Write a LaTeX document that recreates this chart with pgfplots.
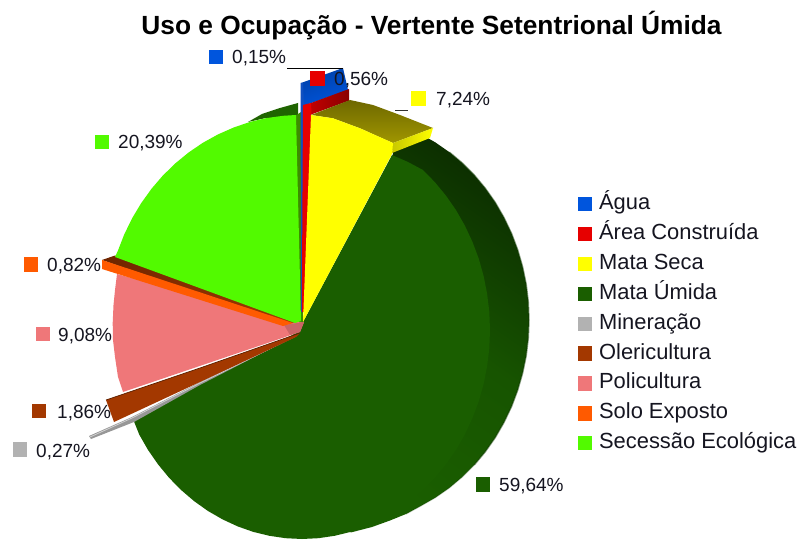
\documentclass[border=0pt]{standalone}
\usepackage{pgfplots}
\usepackage{fontspec}
\setmainfont{Liberation Sans}
\pgfplotsset{compat=1.18}
\definecolor{cAgua}{HTML}{0055DD}
\definecolor{cArea}{HTML}{E60000}
\definecolor{cSeca}{HTML}{FFFF00}
\definecolor{cUmida}{HTML}{1A5E00}
\definecolor{cMin}{HTML}{B2B2B2}
\definecolor{cOle}{HTML}{A33800}
\definecolor{cPoli}{HTML}{EF7779}
\definecolor{cSolo}{HTML}{FF5A00}
\definecolor{cSec}{HTML}{52FA00}
\definecolor{cTxt}{HTML}{151520}
\definecolor{wUa}{HTML}{0C2F00}
\definecolor{wUb}{HTML}{175400}
\definecolor{wSecB}{HTML}{1F6400}
\definecolor{wSolo}{HTML}{6E2500}
\definecolor{wSecI}{HTML}{3D8C00}
\definecolor{wAg}{HTML}{0040A8}
\definecolor{wAgI}{HTML}{1050C0}
\definecolor{wArL}{HTML}{C00000}
\definecolor{wArR}{HTML}{8A0000}
\definecolor{wSeT}{HTML}{6E6800}
\definecolor{wSeB}{HTML}{A09600}
\definecolor{wSeS}{HTML}{C8C800}
\definecolor{wRim}{HTML}{0F3A00}
\pgfplotsset{keysq/.style={only marks,mark=square*,mark size=6.7pt,color=#1,mark options={draw=#1,fill=#1,line width=0pt}}}
\newcommand{\lab}[3]{\node[anchor=base west,inner sep=0pt,text=cTxt,font=\fontsize{19}{22}\selectfont] at (axis cs:#1,#2) {#3};}
\begin{document}
\begin{tikzpicture}[x=1pt,y=1pt]
\useasboundingbox (0,0) rectangle (798,540);
\begin{axis}[at={(0,0)},anchor=south west,scale only axis,width=798pt,height=540pt,
 xmin=0,xmax=798,ymin=0,ymax=540,y dir=reverse,hide axis,clip=false,
 legend style={draw=none,fill=none,at={(axis cs:575,191)},anchor=north west,
  font=\fontsize{21.9}{24}\selectfont,text=cTxt,row sep=7.875pt,
  nodes={inner ysep=0.5pt,inner xsep=7.5pt,text height=16pt,text depth=5pt}},
 legend cell align=left]
% legend
\addlegendimage{keysq=cAgua}
\addlegendimage{keysq=cArea}
\addlegendimage{keysq=cSeca}
\addlegendimage{keysq=cUmida}
\addlegendimage{keysq=cMin}
\addlegendimage{keysq=cOle}
\addlegendimage{keysq=cPoli}
\addlegendimage{keysq=cSolo}
\addlegendimage{keysq=cSec}
\addlegendentry{Água}
\addlegendentry{Área Construída}
\addlegendentry{Mata Seca}
\addlegendentry{Mata Úmida}
\addlegendentry{Mineração}
\addlegendentry{Olericultura}
\addlegendentry{Policultura}
\addlegendentry{Solo Exposto}
\addlegendentry{Secessão Ecológica}
% Mata Umida wall
\addplot[forget plot,draw=none,top color=wUa,bottom color=cUmida,middle color=wUb,shading angle=-35] coordinates {(393,152)(421,134.2)(435.5,142.5)(449.3,152.1)(462.2,163)(474.2,175)(485.2,188.2)(495.2,202.4)(503.9,217.5)(511.5,233.4)(517.7,249.9)(522.6,266.9)(526.2,284.4)(528.3,302.1)(529,320)(528.3,337.9)(526.2,355.6)(522.6,373.1)(517.7,390.1)(511.5,406.6)(503.9,422.5)(495.2,437.6)(485.2,451.8)(474.2,465)(462.2,477)(449.3,487.9)(435.5,497.5)(421,505.8)(406,514)(390,520.5)(372,527)(350.7,532.5)} --cycle;
\addplot[forget plot,draw=wRim,line width=1.5pt,opacity=.5] coordinates {(449.3,152.1)(462.2,163)(474.2,175)(485.2,188.2)(495.2,202.4)(503.9,217.5)(511.5,233.4)(517.7,249.9)(522.6,266.9)(526.2,284.4)(528.3,302.1)(529,320)(528.3,337.9)(526.2,355.6)(522.6,373.1)(517.7,390.1)(511.5,406.6)(503.9,422.5)(495.2,437.6)(485.2,451.8)(474.2,465)};
\addplot[forget plot,draw=wRim,line width=1.2pt,opacity=.25] coordinates {(474.2,465)(462.2,477)(449.3,487.9)(435.5,497.5)(421,505.8)(406,514)};
% Mata Umida face
\addplot[forget plot,draw=none,fill=cUmida] coordinates {(303,322)(392,155)(408,162)(422.8,169.9)(434.9,182.2)(446,195.7)(456,210.1)(464.8,225.5)(472.4,241.7)(478.7,258.5)(483.6,275.9)(487.1,293.7)(489.3,311.8)(490,330)(489.3,348.2)(487.1,366.3)(483.6,384.1)(478.7,401.5)(472.4,418.3)(464.8,434.5)(456,449.9)(446,464.3)(434.9,477.8)(422.8,490.1)(409.8,501.2)(396,511)(381.4,519.4)(366.3,526.4)(350.7,531.9)(334.6,535.8)(318.4,538.2)(302,539)(285.6,538.2)(269.4,535.8)(253.3,531.9)(237.7,526.4)(222.6,519.4)(208,511)(194.2,501.2)(181.2,490.1)(169.1,477.8)(158,464.3)(148,449.9)(139.2,434.5)(133,419)(200,383)(298,332)} --cycle;
% Secessao back wall
\addplot[forget plot,draw=none,fill=wSecB] coordinates {(248,122)(262,114)(280,108)(298,103)(298,117)(266,118)} --cycle;
% Mineracao
\addplot[forget plot,draw=none,fill=cMin!85!black] coordinates {(89,436)(132,417)(200,382)(297,335)(200,385)(134,422)(91,439)} --cycle;
\addplot[forget plot,draw=cMin!60!white,line width=.8pt] coordinates {(90,437)(132,418)(200,383)(296,336)};
% Policultura
\addplot[forget plot,draw=none,fill=cPoli] coordinates {(117,274)(290,322)(304,322)(300,332)(123,392)(118,377)(115,357)(113,340)(112.7,323)(113.5,305)(115,290)} --cycle;
\addplot[forget plot,draw=none,fill=cPoli!85!black] coordinates {(284,325)(304,322)(300,332)(290,335)} --cycle;
% Olericultura
\addplot[forget plot,draw=none,fill=cOle] coordinates {(106,400)(114,422)(200,382)(296,337)(300,333)(200,368)} --cycle;
\addplot[forget plot,draw=cOle!55!black,line width=.7pt] coordinates {(106,400)(200,368)(300,333)};
% Solo Exposto wall and face
\addplot[forget plot,draw=none,left color=wSolo,right color=cOle] coordinates {(102,260)(115,255.5)(297,322)(285,324)} --cycle;
\addplot[forget plot,draw=none,fill=cSolo] coordinates {(102,260)(102,269)(283,326)(293,323)} --cycle;
% Secessao inner wall and face
\addplot[forget plot,draw=none,fill=wSecI] coordinates {(295,116)(301,112)(303,322)(299,322)} --cycle;
\addplot[forget plot,draw=none,fill=cSec] coordinates {(296,115)(283.1,115.8)(266.3,118.1)(249.8,122)(233.7,127.5)(218,134.4)(203,142.7)(188.7,152.4)(175.3,163.4)(162.8,175.6)(151.4,188.9)(141.1,203.3)(132,218.5)(124.2,234.5)(117.7,251.2)(115,257)(295,323)(301,321)} --cycle;
% Agua
\addplot[forget plot,draw=none,bottom color=cAgua,top color=wAg,shading angle=20] coordinates {(301,83)(343,68)(348,90)(303,106)} --cycle;
\addplot[forget plot,draw=none,fill=wAgI] coordinates {(300.6,83)(303,83)(304,105)(302.5,312)(301,312)} --cycle;
% Area construida
\addplot[forget plot,draw=none,left color=wArL,right color=wArR] coordinates {(311,103)(349,89)(349,100.7)(311,114.5)} --cycle;
\addplot[forget plot,draw=none,fill=cArea] coordinates {(303,105)(311,103)(311.5,114)(304,312)(301.8,312)} --cycle;
% Mata Seca
\addplot[forget plot,draw=none,top color=wSeT,bottom color=wSeB] coordinates {(311,115)(350,100)(373,105)(400,115)(433,128)(393,143)(360,128.3)(333,118.3)} --cycle;
\addplot[forget plot,draw=none,left color=wSeS,right color=cSeca] coordinates {(393,143)(433,128)(430,138)(392,153)} --cycle;
\addplot[forget plot,draw=none,fill=cSeca] coordinates {(311,115)(333,118.3)(360,128.3)(393,143)(392,154)(303,322)} --cycle;
% leaders
\addplot[forget plot,black,line width=.7pt] coordinates {(287,68)(343,68)};
\addplot[forget plot,black!80,line width=.7pt] coordinates {(395,110)(408,110)};
% data label keys
\addplot[forget plot,keysq=cAgua] coordinates {(216,57)};
\addplot[forget plot,keysq=cArea] coordinates {(317.5,78.5)};
\addplot[forget plot,keysq=cSeca] coordinates {(418.5,98.7)};
\addplot[forget plot,keysq=cSec] coordinates {(102,142)};
\addplot[forget plot,keysq=cSolo] coordinates {(31,264.5)};
\addplot[forget plot,keysq=cPoli] coordinates {(43,334)};
\addplot[forget plot,keysq=cOle] coordinates {(39,411)};
\addplot[forget plot,keysq=cMin] coordinates {(20,449.5)};
\addplot[forget plot,keysq=cUmida] coordinates {(483,484.5)};
\lab{232}{64}{0,15\%}
\lab{334}{85.5}{0,56\%}
\lab{436}{105.5}{7,24\%}
\lab{118}{149}{20,39\%}
\lab{47}{271.5}{0,82\%}
\lab{58}{341}{9,08\%}
\lab{57}{418}{1,86\%}
\lab{36}{457}{0,27\%}
\lab{499}{491}{59,64\%}
\node[anchor=base,inner sep=0pt,font=\bfseries\fontsize{26.3}{28}\selectfont] at (axis cs:431.5,34.5) {Uso e Ocupação - Vertente Setentrional Úmida};
\end{axis}
\end{tikzpicture}
\end{document}
